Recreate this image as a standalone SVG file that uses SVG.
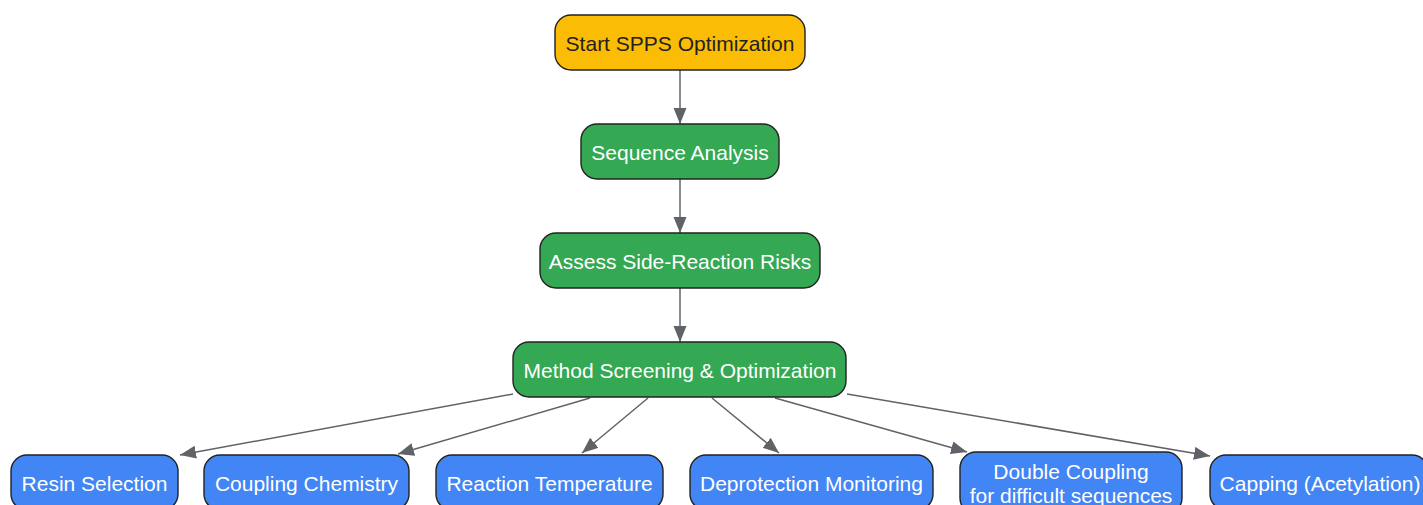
<svg xmlns="http://www.w3.org/2000/svg" width="1423" height="505" viewBox="0 0 1423 505">
<defs>
<marker id="arr" markerUnits="userSpaceOnUse" markerWidth="17" markerHeight="14" refX="16" refY="6.5" orient="auto">
<path d="M0,0 L16,6.5 L0,13 Z" fill="#5f6368"/>
</marker>
<style>
.n rect{stroke:#222;stroke-width:1.4}
.y rect{fill:#FBBC05}
.g rect{fill:#34A853}
.b rect{fill:#4285F4}
text{font-family:"Liberation Sans",Arial,sans-serif;font-size:21px;text-anchor:middle;dominant-baseline:central;fill:#fff}
.y text{fill:#222}
.e line{stroke:#5f6368;stroke-width:1.5;marker-end:url(#arr)}
</style>
</defs>
<g class="e" id="connectors">
<line x1="680" y1="70" x2="680" y2="124"/>
<line x1="680" y1="179" x2="680" y2="233"/>
<line x1="680" y1="288" x2="680" y2="342"/>
<line x1="513" y1="394" x2="180" y2="455"/>
<line x1="590" y1="398" x2="398" y2="454"/>
<line x1="648" y1="398" x2="582" y2="453"/>
<line x1="712" y1="398" x2="779" y2="453"/>
<line x1="775" y1="398" x2="967" y2="452"/>
<line x1="847" y1="394" x2="1210" y2="456"/>
</g>
<g id="start" class="n y"><rect x="555" y="15" width="250" height="55" rx="16"/><text x="680" y="43">Start SPPS Optimization</text></g>
<g id="seq" class="n g"><rect x="581" y="124" width="198" height="55" rx="16"/><text x="680" y="152">Sequence Analysis</text></g>
<g id="assess" class="n g"><rect x="540" y="233" width="280" height="55" rx="16"/><text x="680" y="261">Assess Side-Reaction Risks</text></g>
<g id="method" class="n g"><rect x="513" y="342" width="333" height="55" rx="16"/><text x="680" y="370">Method Screening &amp; Optimization</text></g>
<g id="resin" class="n b"><rect x="11" y="455" width="167" height="55" rx="16"/><text x="94.5" y="483">Resin Selection</text></g>
<g id="coupling" class="n b"><rect x="204" y="455" width="205" height="55" rx="16"/><text x="306.5" y="483">Coupling Chemistry</text></g>
<g id="temp" class="n b"><rect x="436" y="455" width="227" height="55" rx="16"/><text x="549.5" y="483">Reaction Temperature</text></g>
<g id="deprot" class="n b"><rect x="690" y="455" width="243" height="55" rx="16"/><text x="811.5" y="483">Deprotection Monitoring</text></g>
<g id="double" class="n b"><rect x="960" y="452" width="222" height="62" rx="16"/><text x="1071" y="471">Double Coupling</text><text x="1071" y="495">for difficult sequences</text></g>
<g id="capping" class="n b"><rect x="1210" y="455" width="218" height="55" rx="16"/><text x="1320" y="483">Capping (Acetylation)</text></g>
</svg>
